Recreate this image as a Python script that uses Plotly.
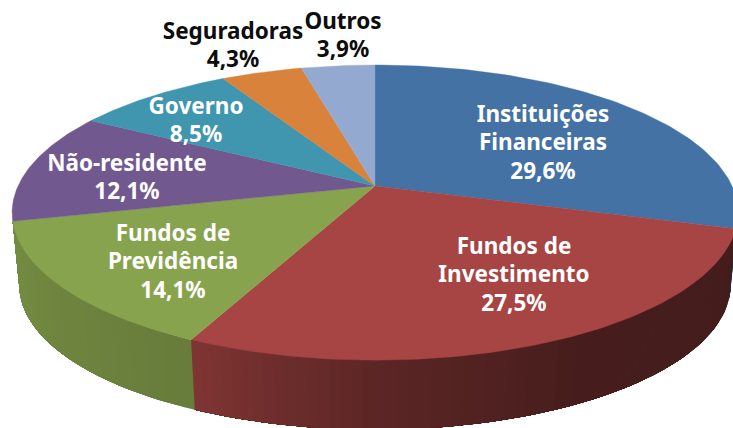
import math
import numpy as np
import plotly.graph_objects as go

# ---- data ----
categories = ["Instituições Financeiras", "Fundos de Investimento", "Fundos de Previdência",
              "Não-residente", "Governo", "Seguradoras", "Outros"]
values = [29.6, 27.5, 14.1, 12.1, 8.5, 4.3, 3.9]
value_labels = ["29,6%", "27,5%", "14,1%", "12,1%", "8,5%", "4,3%", "3,9%"]
label_names = [["Instituições", "Financeiras"], ["Fundos de", "Investimento"], ["Fundos de", "Previdência"],
               ["Não-residente"], ["Governo"], ["Seguradoras"], ["Outros"]]

# ---- style / layout ----
colors = ["#4472A4", "#A64543", "#88A34D", "#71588F", "#4096AE", "#D8823C", "#93A9CF"]
text_colors = ["white"] * 5 + ["#0d0d0d"] * 2
label_centers = [(543, 116), (514, 248), (173, 235), (127, 165), (196, 108), (233, 33), (343, 23)]
line_height = 28.7
W, H = 733, 428
CX, CY, A, B, K = 375, 186, 357, 142.8, 0.18
SHRINK, DEPTH = 0.98, 73
shade_angles = [96, 150, 180, 205, 256]
shade_factors = [0.41, 0.42, 0.55, 0.76, 0.86]


def top_point(theta_deg):
    t = math.radians(theta_deg)
    u, v = math.sin(t), math.cos(t)
    d = 1 + K * v
    return CX + A * u / d, CY - B * v / d


def bottom_point(theta_deg):
    x, y = top_point(theta_deg)
    return CX + (x - CX) * SHRINK, CY + (y - CY) * SHRINK + DEPTH


def shade(color, f):
    r, g, b = (int(color[i:i + 2], 16) for i in (1, 3, 5))
    return f"rgb({r * f:.0f},{g * f:.0f},{b * f:.0f})"


fig = go.Figure()
total = sum(values)
edges = np.cumsum([0] + values) / total * 360

# side wall, visible part only; each band runs to the slice end and is overpainted by the next
for i, color in enumerate(colors):
    a0, a1 = max(edges[i], 96), min(edges[i + 1], edges[3])
    if a1 <= a0:
        continue
    n = max(1, int((a1 - a0) / 1.5))
    ths = np.linspace(a0, a1, n + 1)
    for t0 in ths[:-1]:
        sub = np.linspace(t0, a1, max(2, int((a1 - t0) / 1.5) + 2))
        pts = [top_point(t) for t in sub] + [bottom_point(t) for t in sub[::-1]]
        c = shade(color, float(np.interp(t0 + 0.75, shade_angles, shade_factors)))
        fig.add_trace(go.Scatter(x=[p[0] for p in pts] + [pts[0][0]], y=[p[1] for p in pts] + [pts[0][1]],
                                 mode="lines", fill="toself", fillcolor=c,
                                 line=dict(width=0), hoverinfo="skip", showlegend=False))

# top face
for i, color in enumerate(colors):
    ths = np.linspace(edges[i], edges[i + 1], 90)
    pts = [(CX, CY)] + [top_point(t) for t in ths] + [(CX, CY)]
    fig.add_trace(go.Scatter(x=[p[0] for p in pts], y=[p[1] for p in pts], mode="lines", fill="toself",
                             fillcolor=color, line=dict(color=color, width=0.4),
                             name=categories[i], hoverinfo="name", showlegend=False))

# labels
for names, val, (lx, ly), tc in zip(label_names, value_labels, label_centers, text_colors):
    lines = names + [val]
    fig.add_trace(go.Scatter(x=[lx] * len(lines), y=[ly + j * line_height for j in range(len(lines))],
                             mode="text", text=lines, textposition="middle center", cliponaxis=False,
                             textfont=dict(family="Noto Sans", size=22.5, color=tc, weight=700),
                             hoverinfo="skip", showlegend=False))

fig.update_layout(width=W, height=H, margin=dict(l=0, r=0, t=0, b=0), autosize=False,
                  paper_bgcolor="white", plot_bgcolor="white", showlegend=False,
                  xaxis=dict(range=[0, W], visible=False, fixedrange=True),
                  yaxis=dict(range=[H, 0], visible=False, fixedrange=True))
fig.write_html("out.html", config={"displayModeBar": False},
               post_script="document.body.style.margin='0';document.body.style.overflow='hidden';")
